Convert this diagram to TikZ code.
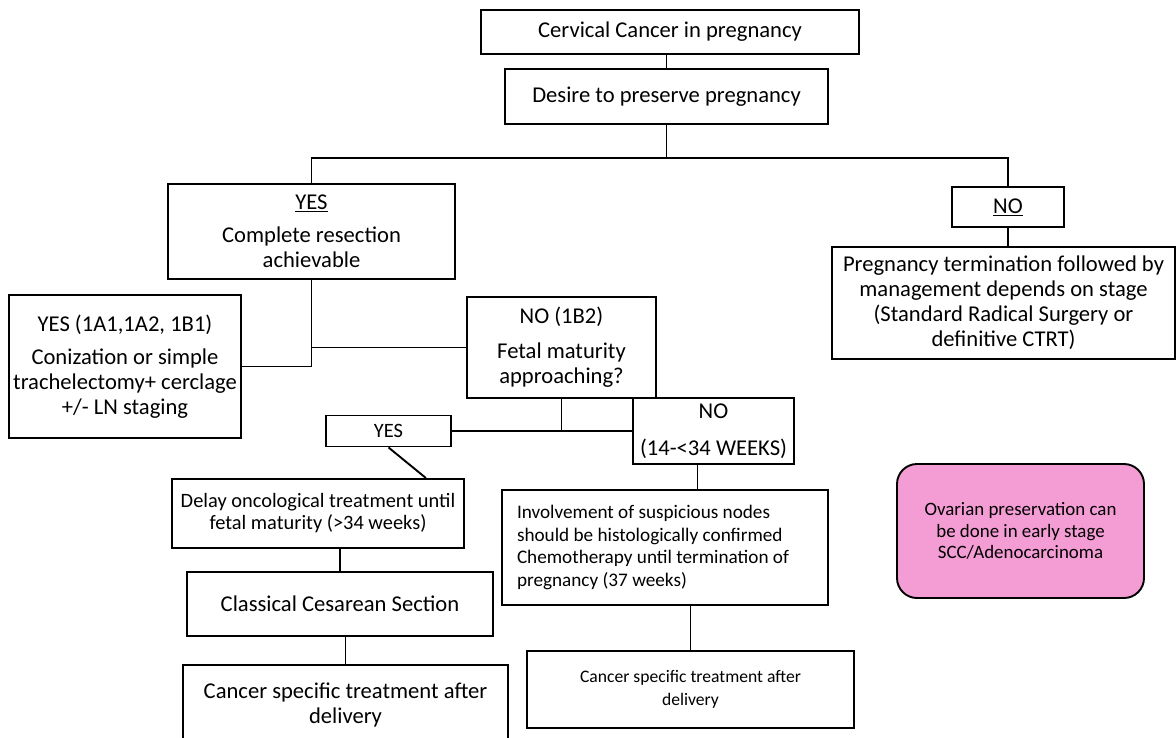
\documentclass[tikz,border=0pt]{standalone}
\usepackage{fontspec}
\setmainfont{Carlito}
\usepackage{xcolor}
\usepackage{tikz}
\usetikzlibrary{positioning,calc}
\definecolor{OvaryPink}{RGB}{244,156,212}

\begin{document}
\begin{tikzpicture}[
    x=1pt, y=1pt,
    link/.style={line width=1.9pt, draw=black},
    thinlink/.style={line width=1pt, draw=black},
    block/.style={
        draw=black,
        line width=1.9pt,
        fill=white,
        align=center,
        inner sep=0pt
    },
    mainblock/.style={block, font=\fontsize{22.6}{25}\selectfont},
    midblock/.style={block, font=\fontsize{20.4}{22}\selectfont},
    smallblock/.style={block, font=\fontsize{19.2}{22.7}\selectfont},
    noteblock/.style={
        block,
        rounded corners=20pt,
        fill=OvaryPink,
        font=\fontsize{18.9}{21.5}\selectfont
    }
]
\useasboundingbox (0,0) rectangle (1176,-737);

% Top of the tree: the clinical situation.
\node[mainblock, minimum width=378pt, minimum height=44pt] (cancer) at (670,-32) {Cervical Cancer in pregnancy};

% First decision: wish to keep the pregnancy.
\node[mainblock, minimum width=323pt, minimum height=55pt] (desire) at (666.5,-96.5) {Desire to preserve pregnancy};

% YES branch: can the lesion be fully resected.
\node[mainblock, minimum width=287pt, minimum height=95pt] (resect) at (311.5,-231.5) {\underline{YES}\\[8pt]
Complete resection\\
achievable};

% Early stages: fertility sparing surgery.
\node[mainblock, minimum width=232pt, minimum height=143pt] (conize) at (125,-366.5) {YES (1A1,1A2, 1B1)\\[8pt]
Conization or simple\\
trachelectomy+ cerclage\\
+/- LN staging};

% Stage 1B2: depends on gestational age.
\node[mainblock, minimum width=189pt, minimum height=101pt] (nomature) at (561.5,-347.5) {NO (1B2)\\[10pt]
Fetal maturity\\
approaching?};

% Not yet mature: preterm window.
\node[mainblock, minimum width=161pt, minimum height=66pt] (preterm) at (713.5,-431) {NO\\[12pt]
(14-<34 WEEKS)};

% Maturity close: wait for delivery.
\node[midblock, minimum width=125pt, minimum height=31pt] (yesmature) at (388.5,-431) {YES};

% Deferred treatment until the fetus is mature.
\node[midblock, minimum width=292pt, minimum height=69pt] (delay) at (318,-513.5) {Delay oncological treatment until\\
fetal maturity (>34 weeks)};

% Delivery by classical section.
\node[mainblock, minimum width=306pt, minimum height=64pt] (cesarean) at (340,-604) {Classical Cesarean Section};

% Treatment after delivery, left path (runs off the page).
\node[mainblock, minimum width=325pt, minimum height=80pt] (afterleft) at (345.5,-705) {Cancer specific treatment after\\
delivery};

% Preterm path: nodes and chemotherapy.
\node[smallblock, align=flush left, text width=296pt, inner xsep=15pt, minimum height=115pt] (involve) at (665,-547.5) {Involvement of suspicious nodes\\
should be histologically confirmed\\
Chemotherapy until termination of\\
pregnancy (37 weeks)};

% Treatment after delivery, right path.
\node[block, font=\fontsize{17.6}{23}\selectfont, minimum width=327pt, minimum height=77pt] (afterright) at (690.5,-689.5) {Cancer specific treatment after\\
delivery};

% NO branch: pregnancy not kept.
\node[mainblock, minimum width=112pt, minimum height=40pt] (noterm) at (1008,-207) {\underline{NO}};

% Termination and standard treatment.
\node[mainblock, minimum width=343pt, minimum height=112pt] (terminate) at (1003.5,-303) {Pregnancy termination followed by\\
management depends on stage\\
(Standard Radical Surgery or\\
definitive CTRT)};

% Side note on the ovaries.
\node[noteblock, minimum width=247pt, minimum height=134pt] (ovary) at (1020.5,-531) {Ovarian preservation can\\
be done in early stage\\
SCC/Adenocarcinoma};

% Trunk of the tree.
\draw[link] (desire.north) -- (desire.north |- cancer.south);
\draw[link] (desire.south) -- ++(0,-33) coordinate (split);
\draw[link] (resect.north) |- (split) -| (noterm.north);
\draw[link] (noterm.south) -- (noterm.south |- terminate.north);

% Resection branch.
\draw[link] (resect.south) |- (conize.east);
\draw[link] (resect.south |- nomature.west) -- (nomature.west);

% Maturity branch.
\draw[link] (nomature.south) |- (yesmature.east);
\draw[link] (nomature.south |- preterm.west) -- (preterm.west);
\draw[link] (yesmature.south) -- ([xshift=-39pt]delay.north east);
\draw[link] (cesarean.north) -- (cesarean.north |- delay.south);
\draw[link] (afterleft.north) -- (afterleft.north |- cesarean.south);

% Preterm branch.
\draw[thinlink] ([xshift=-16pt]preterm.south) -- ([xshift=-16pt]preterm.south |- involve.north);
\draw[thinlink] (afterright.north) -- (afterright.north |- involve.south);

\end{tikzpicture}
\end{document}
